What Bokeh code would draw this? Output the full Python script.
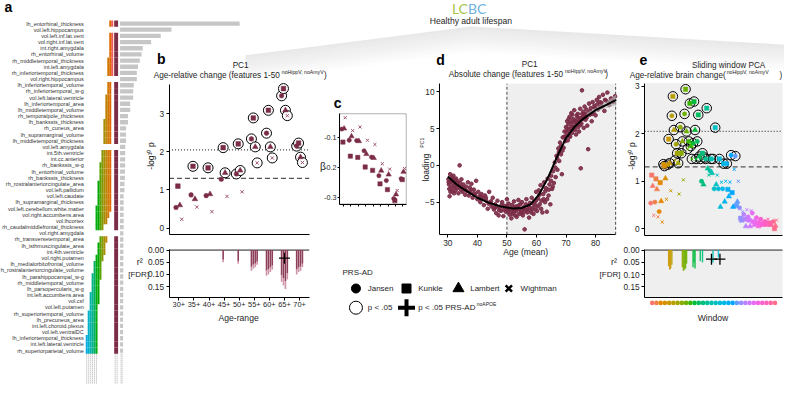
import math
from bokeh.plotting import figure
from bokeh.models import Range1d, FixedTicker, BoxAnnotation, LinearAxis, NumeralTickFormatter
from bokeh.core.properties import value
from bokeh.embed import file_html
from bokeh.resources import INLINE

# ---------------- data ----------------
a_features = [
    "lh_entorhinal_thickness", "vol.left.hippocampus", "vol.left.inf.lat.vent", "vol.right.inf.lat.vent",
    "int.right.amygdala", "rh_entorhinal_volume", "rh_middletemporal_thickness", "int.left.amygdala",
    "rh_inferiortemporal_thickness", "vol.right.hippocampus", "lh_inferiortemporal_volume",
    "rh_inferiortemporal_w-g", "vol.left.lateral.ventricle", "lh_inferiortemporal_area",
    "lh_middletemporal_volume", "rh_temporalpole_thickness", "lh_bankssts_thickness", "rh_cuneus_area",
    "lh_supramarginal_volume", "lh_middletemporal_thickness", "vol.left.amygdala", "int.5th.ventricle",
    "int.cc.anterior", "rh_bankssts_w-g", "lh_entorhinal_volume", "rh_bankssts_thickness",
    "rh_rostralanteriorcingulate_area", "vol.left.pallidum", "vol.left.caudate",
    "lh_supramarginal_thickness", "vol.left.cerebellum.white.matter", "vol.right.accumbens.area",
    "vol.lhcortex", "rh_caudalmiddlefrontal_thickness", "vol.right.amygdala", "rh_transversetemporal_area",
    "lh_isthmuscingulate_area", "int.4th.ventricle", "vol.right.putamen", "lh_medialorbitofrontal_volume",
    "rh_rostralanteriorcingulate_volume", "lh_parahippocampal_w-g", "rh_middletemporal_volume",
    "lh_parsopercularis_w-g", "int.left.accumbens.area", "vol.csf", "vol.left.putamen",
    "rh_superiortemporal_volume", "lh_precuneus_area", "int.left.choroid.plexus", "vol.left.ventralDC",
    "lh_inferiortemporal_thickness", "int.left.lateral.ventricle", "rh_superiorparietal_volume"]
a_loading = [1.0, 0.43, 0.34, 0.26, 0.19, 0.18, 0.165, 0.15, 0.14, 0.14,
             0.115, 0.11, 0.11, 0.085, 0.085, 0.066, 0.066, 0.05, 0.05, 0.05,
             0.043, 0.043, 0.043, 0.043, 0.041, 0.041, 0.037, 0.037, 0.03, 0.03,
             0.03, 0.03, 0.03, 0.03, 0.028, 0.028, 0.028, 0.028, 0.028, 0.027,
             0.027, 0.027, 0.027, 0.027, 0.026, 0.026, 0.026, 0.026, 0.025, 0.025,
             0.025, 0.025, 0.025, 0.025]
# sliding windows in which each feature is among the top features (-1 = excluded feature)
a_win_right = [0, -1, 0, 0, 0, 0, 0, 0, 0, -1,
               1, 1, 1, 1, 1, 1, 1, 1, 1, 1, -1,
               1, 1, 1, 1, 1, 1, 1, 1, 1, 1, 2, 3, 5, -1,
               3, 4, 4, 5, 6, 6, 6, 7, 7, 7, 7, 8, 8, 8, 8, 8, 8, 8, 8]
a_win_left = [1, -1, 1, 1, 1, 1, 2, 2, 2, -1,
              2, 2, 3, 3, 3, 3, 4, 4, 4, 4, -1,
              5, 5, 6, 6, 6, 7, 7, 7, 7, 8, 8, 8, 8, -1,
              6, 7, 7, 8, 9, 9, 10, 10, 10, 11, 11, 11, 12, 12, 12, 12, 13, 13, 13]
a_tail_rows = 5

age_ranges = ["30+", "35+", "40+", "45+", "50+", "55+", "60+", "65+", "70+"]
prs_names = ["Jansen", "Kunkle", "Lambert", "Wightman"]
prs_markers = ["circle", "square", "triangle", "x"]

b_jansen = [0.54, 0.87, 0.85, 1.28, 1.42, 2.34, 2.49, 3.47, 2.15]
b_kunkle = [1.10, 1.62, 1.58, 2.11, 2.21, 2.89, 3.09, 3.66, 2.23]
b_lambert = [0.60, 0.76, 0.89, 1.45, 1.51, 2.13, 2.13, 3.09, 1.86]
b_wightman = [0.23, 0.55, 0.43, 0.83, 0.95, 1.71, 1.84, 2.95, 1.72]

b_r2_jansen = [0, 0, 0, 0, 0, 0.085, 0.105, 0.13, 0.10]
b_r2_kunkle = [0, 0, 0, 0.05, 0.056, 0.075, 0.10, 0.145, 0.09]
b_r2_lambert = [0, 0, 0, 0, 0, 0.07, 0.09, 0.16, 0.085]
b_r2_wightman = [0, 0, 0, 0, 0, 0.06, 0.08, 0.12, 0.07]
b_apoe_cat = [7]
b_apoe_r2 = [0.033]

p05 = -math.log10(0.05)
fdr_line = 2.05

c_jansen = [-0.072, -0.109, -0.110, -0.144, -0.165, -0.227, -0.243, -0.303, -0.237]
c_kunkle = [-0.115, -0.162, -0.166, -0.198, -0.209, -0.254, -0.273, -0.310, -0.240]
c_lambert = [-0.070, -0.096, -0.112, -0.155, -0.168, -0.210, -0.223, -0.289, -0.214]
c_wightman = [-0.034, -0.077, -0.065, -0.109, -0.123, -0.187, -0.205, -0.276, -0.203]

d_age = [30.2, 30.4, 30.5, 30.6, 30.8, 31.0, 31.2, 31.3, 31.5, 31.7, 31.9, 32.0, 32.2, 32.4,
         32.6, 32.8, 33.0, 33.2, 33.4, 33.6, 33.8, 34.0, 34.2, 34.4, 34.6, 34.8, 35.0, 35.3, 35.6, 35.9,
         36.2, 36.5, 36.8, 37.1, 37.4, 37.7, 38.0, 38.4, 38.8, 39.2, 39.6, 40.0, 40.3,
         40.7, 41.0, 41.4, 41.8, 42.2, 42.6, 43.0, 43.5, 44.0, 44.4, 44.8, 45.2,
         45.6, 46.0, 46.4, 46.8, 47.2, 47.6, 48.0, 48.4, 48.8, 49.2, 49.6, 50.0,
         50.3, 50.6, 50.9, 51.2, 51.5, 51.8, 52.1, 52.4, 52.7, 53.0, 53.3, 53.6, 53.9, 54.2, 54.5, 54.8,
         55.1, 55.4, 55.7, 56.0, 56.3, 56.6, 56.9, 57.2, 57.5, 57.8, 58.1, 58.4, 58.7, 59.0, 59.3, 59.6, 59.9,
         60.2, 60.5, 60.8, 61.1, 61.4, 61.7, 62.0, 62.3, 62.6, 62.9, 63.2, 63.5, 63.8, 64.1, 64.4, 64.7, 65.0,
         65.3, 65.6, 65.9, 66.2, 66.5, 66.8, 67.1, 67.4, 67.7, 68.0, 68.3, 68.6, 68.9, 69.2, 69.5, 69.8,
         70.0, 70.2, 70.4, 70.6, 70.8, 71.0, 71.2, 71.4, 71.6, 71.8, 72.0, 72.2, 72.4, 72.6, 72.8,
         73.0, 73.2, 73.4, 73.6, 73.8, 74.0, 74.2, 74.4, 74.6, 74.8,
         75.0, 75.2, 75.4, 75.6, 75.8, 76.0, 76.3, 76.6, 76.9, 77.2, 77.5, 77.8, 78.1, 78.4, 78.7, 79.0, 79.3, 79.6,
         80.0, 80.4, 80.8, 81.2, 81.6, 82.0, 82.5, 83.0, 83.5, 84.0, 84.6, 85.2, 86.0, 86.6,
         30.3, 30.9, 31.4, 32.1, 32.9, 37.9, 39.0, 41.2, 42.9, 43.8, 44.6,
         45.9, 46.6, 47.4, 48.2, 49.0, 49.8,
         50.1, 50.5, 51.0, 51.4, 51.9, 52.3, 52.8, 53.2, 53.8, 54.3, 54.9, 55.3, 55.9, 56.4, 57.0, 57.6, 58.2,
         58.9, 59.5, 59.8,
         60.4, 61.0, 61.6, 62.4, 63.0, 63.6, 64.2, 64.9, 65.5,
         66.4, 67.0, 67.6, 68.2, 68.8, 69.4,
         70.1, 70.5, 70.9, 71.1, 71.5, 71.9, 72.1, 72.5, 72.9, 73.1, 73.5, 73.9, 74.1, 74.5, 74.9,
         75.1, 75.5, 75.9, 76.2, 76.8, 77.0, 77.6, 78.2, 78.9, 79.8,
         80.6, 81.4, 82.3, 83.2, 84.3, 85.6]
d_load = [-1.9, -2.6, -3.2, -4.2, -1.2, -2.2, -2.9, -1.6, -3.5, -2.4, -1.4, -3.0, -2.0, -2.7,
          -3.4, -1.8, -2.5, -3.1, -2.2, -3.8, -2.8, 0.0, -2.4, -3.3, -1.9, -2.9, -3.6, -2.6, -3.2, -4.0,
          -2.9, -3.5, -2.3, -4.1, -3.0, -3.7, -2.5, -4.4, -3.3, -4.0, -2.1, -4.6, -3.6,
          -4.2, -5.0, -3.9, -4.5, -5.4, -4.1, -4.8, -5.9, -3.6, -5.1, -5.6, -4.4,
          -6.0, -5.3, -6.5, -4.8, -6.8, -5.7, -6.2, -5.0, -6.9, -5.5, -6.3, -4.6,
          -6.0, -5.2, -6.7, -5.8, -7.2, -5.4, -6.4, -4.9, -6.1, -5.6, -7.0, -5.9, -4.7, -6.6, -5.3, -6.2,
          -5.0, -6.8, -5.7, -8.7, -6.0, -4.6, -6.4, -5.5, -7.1, -5.1, -6.1, -4.4, -5.8, -6.6, -4.9, -5.4, -3.6,
          -6.2, -4.5, -3.4, -5.3, -2.7, -4.8, -6.4, -3.9, -2.3, -5.0, -3.1, -6.3, -1.8, -4.1, -2.6, -5.3, -1.4,
          -3.2, -0.8, -2.4, 0.4, -1.6, 1.3, -0.6, 2.3, 0.6, 3.1, 1.5, -1.2, 3.8, 2.4, 4.6, 3.3,
          5.2, 4.1, 6.0, 3.4, 5.6, 4.7, 6.6, 3.9, 5.0, 7.1, 4.4, 5.8, 6.3, 4.9, 7.5,
          5.3, 6.1, 4.2, 6.8, 5.5, 7.0, 5.9, 4.6, 6.4, 7.7,
          -0.4, 5.7, 10.2, 6.6, 7.3, 5.1, 8.0, 6.2, 7.6, 5.4, 2.2, 8.4, 6.9, 7.8, 6.0, 8.6, 7.2, 8.1,
          6.8, 8.9, 7.6, 9.3, 7.9, 8.5, 9.6, 7.4, 8.8, 9.9, 8.2, 9.1, 8.6, 9.4,
          -2.3, -3.6, -2.0, -3.8, -2.1, -3.3, -3.8, -4.3, -4.4, -5.2, -4.9,
          -5.8, -5.6, -6.1, -5.4, -6.0, -5.8,
          -5.5, -6.3, -5.9, -6.1, -6.6, -5.7, -6.8, -6.2, -5.5, -5.9, -6.5, -5.9, -6.3, -5.3, -6.0, -5.7, -6.4,
          -5.2, -6.0, -4.8,
          -5.6, -4.0, -5.9, -4.6, -3.5, -4.6, -3.3, -2.1, -2.9,
          -0.3, 1.0, 1.8, 2.6, 2.0, 3.9,
          4.6, 5.0, 6.3, 4.0, 5.9, 5.3, 6.9, 5.2, 6.0, 4.8, 5.8, 6.5, 5.2, 6.0, 5.5,
          6.4, 7.0, 6.3, 6.9, 7.0, 6.5, 7.1, 7.4, 7.0, 7.8,
          8.3, 8.6, 8.0, 8.9, 8.6, 9.0]
d_fit_age = [30, 33, 36, 40, 44, 48, 52, 55, 58, 61, 64, 67, 70, 73, 76, 80, 84, 87]
d_fit_load = [-1.5, -2.6, -3.4, -4.4, -5.1, -5.6, -5.85, -5.8, -5.3, -3.9, -1.6, 1.2, 3.7, 5.3, 6.4, 7.5, 8.3, 8.9]
d_ci_age = [77, 80, 84, 87]
d_ci_low = [6.75, 7.25, 7.85, 8.15]
d_ci_high = [7.15, 7.75, 8.75, 9.65]
d_window = [50, 86.8]

e_jansen = [0.54, 0.56, 0.36, 1.36, 1.35, 2.38, 1.78, 2.14, 2.42, 1.84, 1.80, 1.84, 1.00, 1.47, 1.22,
            0.84, 0.84, 0.84, 1.37, 1.55, 1.53, 0.44, 0.30, 0.25, 0.33, 0.23, 0.20, 0.15, 0.12, 0.15]
e_kunkle = [1.13, 1.05, 0.97, 1.32, 1.89, 2.79, 1.59, 1.59, 2.94, 2.64, 2.68, 2.40, 1.59, 2.54, 1.47,
            2.13, 1.47, 1.37, 0.83, 0.76, 0.49, 0.22, 0.20, 0.18, 0.15, 0.12, 0.10, 0.12, 0.10, 0.00]
e_lambert = [0.90, 0.83, 0.58, 1.06, 1.38, 2.08, 1.38, 1.84, 2.05, 1.74, 2.08, 1.52, 0.93, 1.27, 1.17,
             0.93, 0.46, 0.57, 0.68, 0.46, 0.57, 0.17, 0.05, 0.05, 0.08, 0.05, 0.08, 0.08, 0.08, 0.06]
e_wightman = [0.28, 0.25, 0.14, 0.62, 0.80, 1.44, 0.73, 1.03, 1.68, 1.47, 1.47, 1.47, 1.50, 1.13, 1.47,
              1.13, 0.98, 1.00, 0.98, 1.25, 1.00, 0.36, 0.40, 0.38, 0.20, 0.15, 0.12, 0.20, 0.15, 0.18]
e_r2_win = [4, 4, 4, 5, 7, 7, 8, 8, 8, 10, 10, 10, 11, 12, 14, 16]
e_r2_prs = [1, 2, 3, 0, 2, 3, 0, 1, 2, 0, 1, 2, 3, 1, 3, 0]
e_r2_val = [0.065, 0.08, 0.075, 0.06, 0.07, 0.085, 0.08, 0.075, 0.055, 0.07, 0.05, 0.075, 0.045, 0.05, 0.05, 0.03]
e_apoe_win = [14, 16]
e_apoe_r2 = [0.037, 0.037]
n_windows = 30

# ---------------- styling helpers ----------------
W, H = 784, 384
REF_W, REF_H = 800.0, 400.0
FONT = "Liberation Sans"
MAROON = "#7B2C46"
XCOL = "#A35670"
LIGHT = "#CF94A6"
TXT = "#1E1E1E"


def hcl_hex(h, c=100.0, l=65.0):
    hr = math.radians(h)
    U, V = c * math.cos(hr), c * math.sin(hr)
    Xn, Yn, Zn = 95.047, 100.0, 108.883
    un = 4 * Xn / (Xn + 15 * Yn + 3 * Zn)
    vn = 9 * Yn / (Xn + 15 * Yn + 3 * Zn)
    Y = Yn * ((l + 16) / 116) ** 3
    u = U / (13 * l) + un
    v = V / (13 * l) + vn
    X = 9 * Y * u / (4 * v)
    Z = 3 * Y / v - X / 3 - 5 * Y
    X, Y, Z = X / 100, Y / 100, Z / 100
    rgb = [3.2404542 * X - 1.5371385 * Y - 0.4985314 * Z,
           -0.9692660 * X + 1.8760108 * Y + 0.0415560 * Z,
           0.0556434 * X - 0.2040259 * Y + 1.0572252 * Z]
    out = []
    for t in rgb:
        t = 12.92 * t if t <= 0.0031308 else 1.055 * t ** (1 / 2.4) - 0.055
        out.append(int(round(max(0, min(1, t)) * 255)))
    return "#%02x%02x%02x" % tuple(out)


win_colors = [hcl_hex(15 + 360.0 * i / n_windows) for i in range(n_windows)]
a_colors = [hcl_hex(12 + 16.0 * w, 115, 58) for w in range(16)]

# one canvas; every panel gets its own x / y scale mapped onto its region of the canvas
p = figure(width=W, height=H, output_backend="svg", toolbar_location=None,
           x_range=Range1d(0, REF_W), y_range=Range1d(0, REF_H), min_border=0,
           x_axis_location=None, y_axis_location=None)
p.outline_line_color = None
p.xgrid.visible = False
p.ygrid.visible = False
p.background_fill_color = "white"
p.border_fill_color = "white"

xr, yr = {}, {}


def region(name, xd, xp, yd, yp):
    """xd=(left,right) data at ref pixels xp; yd=(bottom,top) data at ref pixels yp=(ybottom,ytop)."""
    sx = (xd[1] - xd[0]) / (xp[1] - xp[0])
    xr[name] = Range1d(xd[0] - xp[0] * sx, xd[0] + (REF_W - xp[0]) * sx)
    sy = (yd[0] - yd[1]) / (yp[0] - yp[1])
    yr[name] = Range1d(yd[0] + (REF_H - yp[0]) * sy, yd[1] - yp[1] * sy)


def style_axis(ax, size="8.3px"):
    ax.major_label_text_font = FONT
    ax.major_label_text_font_size = size
    ax.major_label_text_color = TXT
    ax.axis_line_color = "black"
    ax.axis_line_width = 1
    ax.major_tick_line_color = "black"
    ax.major_tick_out = 3
    ax.major_tick_in = 0
    ax.minor_tick_line_color = None
    ax.major_label_standoff = 2


def axis(side, name, loc, bounds, ticks, overrides=None, fmt=None, tick_out=3, line=True, minor=None):
    ax = LinearAxis(x_range_name=name, y_range_name=name, fixed_location=loc, bounds=bounds,
                    ticker=FixedTicker(ticks=ticks, minor_ticks=minor or []))
    style_axis(ax)
    ax.major_tick_out = tick_out
    if minor:
        ax.minor_tick_line_color = "black"
        ax.minor_tick_out = tick_out
        ax.minor_tick_in = 0
    if not line:
        ax.axis_line_color = None
    if overrides:
        ax.major_label_overrides = overrides
    if fmt:
        ax.formatter = NumeralTickFormatter(format=fmt)
    p.add_layout(ax, side)
    return ax


def txt(x, y, s, size=8.2, align="center", color=TXT, style="normal", angle=0.0, font=FONT):
    p.text(x=[x], y=[REF_H - y], text=[s], text_font=value(font), text_font_size=value("%.1fpx" % size),
           text_align=align, text_baseline="middle", text_color=color, text_font_style=style, angle=angle)


# panel regions (data extents, reference-pixel extents)
A_X, A_Y = (-0.295, 1.016), (58.5, -0.7)
AW_X = (14, -66)
B_X, B_Y = (-0.65, 8.64), (-0.176, 3.78)
B2_Y = (0.193, -0.004)
C_X, C_Y = (-0.53, 8.45), (-0.321, -0.021)
D_X, D_Y = (27.2, 86.9), (-9.43, 11.1)
E_X, E_Y = (-1.79, 30.79), (-0.148, 3.07)
E2_Y = (0.193, -0.004)
ES_Y = (-1, 1)

region("a", A_X, (86, 246), A_Y, (400, 19.5))
region("aw", AW_X, (86, 246), A_Y, (400, 19.5))
region("b", B_X, (172, 315), B_Y, (244, 87))
region("b2", B_X, (172, 315), B2_Y, (309, 259))
region("c", C_X, (346, 414), C_Y, (212, 118))
region("d", D_X, (448, 628), D_Y, (244, 86.7))
region("e", E_X, (657.3, 798), E_Y, (245, 86))
region("e2", E_X, (657.3, 798), E2_Y, (309.3, 259))
region("es", E_X, (657.3, 798), ES_Y, (319, 311))
p.extra_x_ranges = xr
p.extra_y_ranges = yr


def R(name):
    return dict(x_range_name=name, y_range_name=name)


# ---------------- header, letters, titles ----------------
edge_x = [250, 480, 800]
edge_y = [57, 27, 46]
for k in range(14):
    ys_top = [REF_H - (y + 2 * k) for y in edge_y]
    ys_bot = [REF_H - (y + 2 * k + 2) for y in edge_y]
    p.patch(x=edge_x + edge_x[::-1], y=ys_top + ys_bot[::-1], fill_color="#A0A0A0",
            fill_alpha=0.24 * (1 - k / 14.0), line_color=None)
txt(477, 8, "LC", size=14, align="right", color="#A8C545", font="Lato")
txt(477, 8, "BC", size=14, align="left", color="#6FB3E0", font="Lato")
txt(480, 21, "Healthy adult lifespan", size=8.6)

for lx, ly, lt in [(8, 7, "a"), (164, 61, "b"), (344, 107, "c"), (449, 62, "d"), (656, 62, "e")]:
    txt(lx, ly, lt, size=14, style="bold", color="black")

txt(245, 68, "PC1", size=8.2)
txt(285, 78, "Age-relative change (features 1-50", size=8.2, align="right")
txt(287, 74.5, "noHippV, noAmyV", size=5.2, align="left")
txt(330, 78, ")", size=8.2, align="left")
txt(540, 67, "PC1", size=8.2)
txt(574, 77, "Absolute change (features 1-50", size=8.2, align="right")
txt(576, 73.5, "noHippV, noAmyV", size=5.2, align="left")
txt(617, 77, ")", size=8.2, align="left")
txt(743, 68, "Sliding window PCA", size=8.2)
txt(740, 78, "Age-relative brain change(", size=8.2, align="right")
txt(741, 74.5, "noHippV, noAmyV", size=5.2, align="left")
txt(795, 78, ")", size=8.2, align="left")

txt(154, 162, "-log\u00b9\u2070 p", size=8.6, angle=math.pi / 2)
txt(644, 162, "-log\u00b9\u2070 p", size=8.6, angle=math.pi / 2)
txt(329, 173, "\u03b2", size=10)
txt(434, 174, "loading", size=8.6, angle=math.pi / 2)
txt(430, 148, "PC1", size=5.2, angle=math.pi / 2)
txt(142, 272, "r\u00b2", size=9)
txt(141, 285, "[FDR]", size=8)
txt(626, 272, "r\u00b2", size=9)
txt(622, 285, "[FDR]", size=8)
txt(243, 331, "Age-range", size=8.6)
txt(536, 262, "Age (mean)", size=8.6)
txt(727, 331, "Window", size=8.6)

# legend
txt(349, 283, "PRS-AD", size=8, align="left")
for kx, mk, lab in [(362.7, "circle", "Jansen"), (414.3, "square", "Kunkle"),
                    (467.3, "triangle", "Lambert"), (518.7, "x", "Wightman")]:
    p.scatter(x=[kx], y=[REF_H - 300], marker=mk, size=9 if mk != "triangle" else 11,
              fill_color="black", line_color="black", line_width=2.5 if mk == "x" else 1)
    txt(kx + 12, 300, lab, size=8, align="left")
p.scatter(x=[362.7], y=[REF_H - 320], marker="circle", size=13, fill_color=None, line_color="black", line_width=1)
txt(374.7, 320, "p < .05", size=8, align="left")
p.scatter(x=[414.3], y=[REF_H - 320], marker="cross", size=17, line_color="black", line_width=4)
txt(426.3, 320, "p < .05 PRS-AD", size=8, align="left")
txt(486, 316, "noAPOE", size=5, align="left")

# ---------------- panel a ----------------
rows = list(range(len(a_features)))
ax_a = axis("left", "a", A_X[0], (-0.7, 58.5), rows, overrides={i: n for i, n in enumerate(a_features)},
            tick_out=0, line=False)
ax_a.major_label_text_font_size = "5.5px"
ax_a.major_label_text_color = "#333333"
ax_a.major_label_standoff = 1
ax_a.major_tick_line_color = None
p.hbar(y=rows, left=0, right=a_loading, height=0.7, fill_color="#C6C6C6", line_color=None, **R("a"))
cx, cy, cc, mx, my = [], [], [], [], []
for r in rows:
    if a_win_right[r] < 0:
        continue
    mx.append(-2)
    my.append(r)
    for w in range(a_win_right[r], a_win_left[r] + 1):
        cx.append(w)
        cy.append(r)
        cc.append(a_colors[w])
p.rect(x=cx, y=cy, width=1.02, height=1.02, fill_color=cc, line_color=None, **R("aw"))
p.rect(x=mx, y=my, width=2, height=1.02, fill_color=MAROON, line_color=None, **R("aw"))
last = len(rows) - 1
tail_x = list(range(a_win_right[last], a_win_left[last] + 1)) + [-1.5, -2.5]
p.segment(x0=tail_x, y0=[last + 0.5] * len(tail_x), x1=tail_x, y1=[last + 0.5 + a_tail_rows] * len(tail_x),
          line_color="#8A8A8A", line_width=0.7, line_dash="1 1", **R("aw"))
p.segment(x0=[0.008, 0.018], y0=[last + 0.5] * 2, x1=[0.008, 0.018], y1=[last + 0.5 + a_tail_rows] * 2,
          line_color="#9A9A9A", line_width=0.7, line_dash="1 1", **R("a"))

# ---------------- panel b ----------------
b_vals = [b_jansen, b_kunkle, b_lambert, b_wightman]
b_r2 = [b_r2_jansen, b_r2_kunkle, b_r2_lambert, b_r2_wightman]
b_dodge = [-0.19, -0.065, 0.065, 0.19]
cats = list(range(len(age_ranges)))

axis("left", "b", B_X[0], (B_Y[0], B_Y[1]), [0, 1, 2, 3])
axis("below", "b", B_Y[0], B_X, [], tick_out=0)
p.segment(x0=[B_X[0]], x1=[B_X[1]], y0=[p05], y1=[p05], line_color="#555555", line_width=1.2,
          line_dash="5 3", **R("b"))
p.segment(x0=[B_X[0]], x1=[B_X[1]], y0=[fdr_line], y1=[fdr_line], line_color="#444444", line_width=1.2,
          line_dash="1 2", **R("b"))
for k in range(4):
    xs = [c + b_dodge[k] for c in cats]
    sx = [x for x, v in zip(xs, b_vals[k]) if v > p05]
    sy = [v for v in b_vals[k] if v > p05]
    p.scatter(x=sx, y=sy, marker="circle", size=10, fill_color="white", line_color="black", line_width=1,
              **R("b"))
for k in range(4):
    xs = [c + b_dodge[k] for c in cats]
    col = XCOL if prs_markers[k] == "x" else MAROON
    p.scatter(x=xs, y=b_vals[k], marker=prs_markers[k], size=4.6 if prs_markers[k] != "triangle" else 5.6,
              fill_color=col, line_color=col, line_width=1 if prs_markers[k] == "x" else 0.5, **R("b"))

axis("left", "b2", B_X[0], (B2_Y[1], B2_Y[0]), [0, 0.05, 0.1, 0.15], fmt="0.00")
ax_b2 = axis("below", "b2", B2_Y[0], B_X, cats, overrides={i: s for i, s in enumerate(age_ranges)})
ax_b2.major_label_text_font_size = "7.4px"
p.segment(x0=[B_X[0]], x1=[B_X[1]], y0=[0], y1=[0], line_color="#7F7F7F", line_width=1.8, **R("b2"))
for k in range(4):
    xs = [c + b_dodge[k] for c in cats if b_r2[k][c] > 0]
    vs = [v for v in b_r2[k] if v > 0]
    p.segment(x0=xs, y0=[0] * len(xs), x1=xs, y1=[v * 0.8 for v in vs], line_color="#8E3E58", line_width=1.6,
              **R("b2"))
    p.segment(x0=xs, y0=[v * 0.8 for v in vs], x1=xs, y1=vs, line_color=LIGHT, line_width=1.6, **R("b2"))
p.scatter(x=b_apoe_cat, y=b_apoe_r2, marker="cross", size=11, line_color="black", line_width=1.3, **R("b2"))

# ---------------- panel c ----------------
c_vals = [c_jansen, c_kunkle, c_lambert, c_wightman]
c_dodge = [-0.23, -0.08, 0.08, 0.23]
p.add_layout(BoxAnnotation(left=C_X[0], right=C_X[1], bottom=C_Y[0], top=C_Y[1], fill_color=None,
                           line_color="black", line_width=1, **R("c")))
ax_c = axis("left", "c", C_X[0], C_Y, [-0.3, -0.2, -0.1], fmt="0.0", tick_out=2)
ax_c.major_label_text_font_size = "7.2px"
ax_c.major_label_standoff = 1
axis("below", "c", C_Y[0], C_X, [], tick_out=2, minor=cats)
for k in range(4):
    xs = [c + c_dodge[k] for c in cats]
    col = XCOL if prs_markers[k] == "x" else MAROON
    p.scatter(x=xs, y=c_vals[k], marker=prs_markers[k], size=4.3 if prs_markers[k] != "triangle" else 5.3,
              fill_color=col, line_color=col, line_width=1 if prs_markers[k] == "x" else 0.5, **R("c"))

# ---------------- panel d ----------------
p.add_layout(BoxAnnotation(left=d_window[0], right=d_window[1], bottom=D_Y[0], top=D_Y[1],
                           fill_color="#EFEFEF", fill_alpha=1, line_color=None, level="underlay", **R("d")))
p.segment(x0=d_window, x1=d_window, y0=[D_Y[0]] * 2, y1=[D_Y[1]] * 2, line_color="#333333", line_dash="3 2",
          line_width=0.9, **R("d"))
axis("left", "d", D_X[0], D_Y, [-5, 0, 5, 10])
axis("below", "d", D_Y[0], D_X, [30, 40, 50, 60, 70, 80])
p.scatter(x=d_age, y=d_load, marker="circle", size=3.6, fill_color=MAROON, line_color=MAROON, fill_alpha=0.9,
          **R("d"))
p.varea(x=d_ci_age, y1=d_ci_low, y2=d_ci_high, fill_color="#B5B5B5", fill_alpha=0.6, **R("d"))
p.line(x=d_fit_age, y=d_fit_load, line_color="black", line_width=2, **R("d"))

# ---------------- panel e ----------------
e_vals = [e_jansen, e_kunkle, e_lambert, e_wightman]
e_dodge = [-0.36, -0.12, 0.12, 0.36]
wins = list(range(n_windows))
p.add_layout(BoxAnnotation(left=E_X[0], right=E_X[1], bottom=E_Y[0], top=E_Y[1], fill_color="#EFEFEF",
                           fill_alpha=1, line_color=None, level="underlay", **R("e")))
axis("left", "e", E_X[0], E_Y, [0, 1, 2, 3])
axis("below", "e", E_Y[0], E_X, [], tick_out=0)
p.segment(x0=[E_X[0]], x1=[E_X[1]], y0=[p05], y1=[p05], line_color="#555555", line_width=1.2, line_dash="5 3",
          **R("e"))
p.segment(x0=[E_X[0]], x1=[E_X[1]], y0=[fdr_line], y1=[fdr_line], line_color="#444444", line_width=1.2,
          line_dash="1 2", **R("e"))
for k in range(4):
    xs = [w + e_dodge[k] for w in wins]
    sx = [x for x, v in zip(xs, e_vals[k]) if v > p05]
    sy = [v for v in e_vals[k] if v > p05]
    p.scatter(x=sx, y=sy, marker="circle", size=9.5, fill_color=None, line_color="black", line_width=1, **R("e"))
for k in range(4):
    xs = [w + e_dodge[k] for w in wins]
    p.scatter(x=xs, y=e_vals[k], marker=prs_markers[k], size=4.3 if prs_markers[k] != "triangle" else 5.3,
              fill_color=win_colors, line_color=win_colors, line_width=1 if prs_markers[k] == "x" else 0.5,
              **R("e"))

p.add_layout(BoxAnnotation(left=E_X[0], right=E_X[1], bottom=E2_Y[0], top=E2_Y[1], fill_color="#EFEFEF",
                           fill_alpha=1, line_color=None, level="underlay", **R("e2")))
axis("left", "e2", E_X[0], (E2_Y[1], E2_Y[0]), [0, 0.05, 0.1, 0.15], fmt="0.00")
axis("below", "e2", E2_Y[0], E_X, [], tick_out=0)
p.segment(x0=[E_X[0]], x1=[E_X[1]], y0=[0], y1=[0], line_color="#7F7F7F", line_width=1.8, **R("e2"))
ex = [w + e_dodge[k] for w, k in zip(e_r2_win, e_r2_prs)]
p.segment(x0=ex, y0=[0] * len(ex), x1=ex, y1=e_r2_val, line_color=[win_colors[w] for w in e_r2_win],
          line_width=1.4, line_alpha=0.9, **R("e2"))
p.scatter(x=e_apoe_win, y=e_apoe_r2, marker="cross", size=11, line_color="black", line_width=1.3, **R("e2"))

p.scatter(x=wins, y=[0] * n_windows, marker="circle", size=4.6, fill_color=win_colors, line_color=None,
          **R("es"))

open("out.html", "w").write(file_html(p, INLINE))
